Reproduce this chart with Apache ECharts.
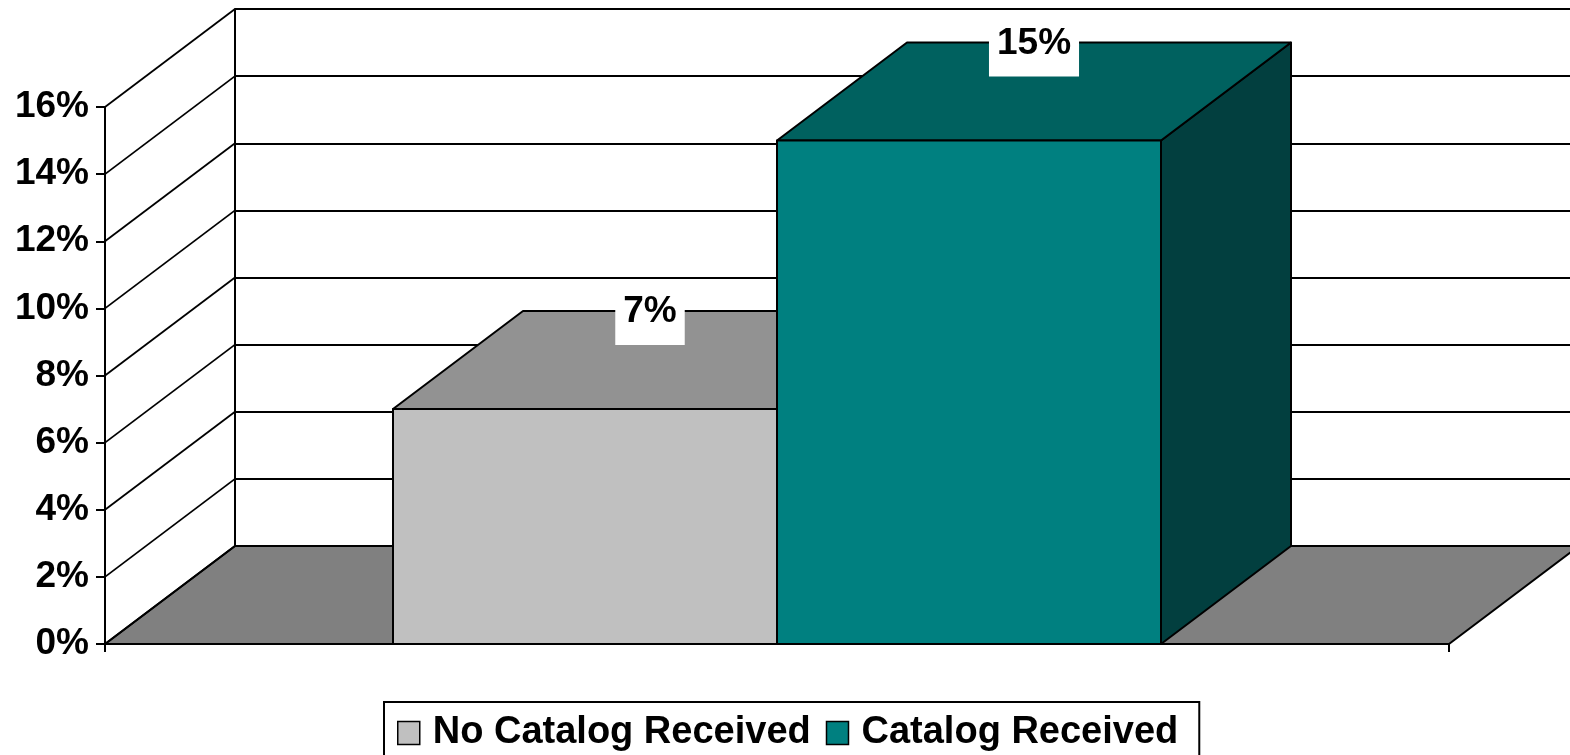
<!DOCTYPE html>
<html>
<head>
<meta charset="utf-8">
<title>Catalog Received vs No Catalog Received</title>
<script src="https://cdn.jsdelivr.net/npm/echarts@6/dist/echarts.min.js"></script>
<style>
  html, body { margin: 0; padding: 0; background: #ffffff; }
  #chart { width: 1570px; height: 755px; }
</style>
</head>
<body>
<div id="chart"></div>
<script>
// ---- data ----
const groupLabels = [''];                                   // one category, two series
const seriesNames = ['No Catalog Received', 'Catalog Received'];
const seriesValues = [7, 15];                               // percent
const tickValues = [0, 2, 4, 6, 8, 10, 12, 14, 16];         // percent

// ---- styling ----
const FONT = '"Liberation Sans", Arial, Helvetica, sans-serif';
const FRONT_COLORS = ['#C0C0C0', '#008080'];
const TOP_COLORS = ['#929292', '#00615F'];
const SIDE_COLORS = ['#6E6E6E', '#023F3F'];
const FLOOR_COLOR = '#808080';
const EDGE = '#000000';
const LINE_W = 2;         // outlines and axis lines
const GRID_W = 1.8;       // wall grid lines
const DEPTH_X = 130;      // 3D depth offset, px
const DEPTH_Y = 98;
const GAP_RATIO = 1.5;    // gap between category groups, in bar widths

const chart = echarts.init(document.getElementById('chart'), null, { renderer: 'canvas' });

// horizontal extent of one bar inside the category band
function barExtent(api, idx) {
  const band = api.size([1, 0])[0];
  const center = api.coord([0, 0])[0];
  const n = seriesValues.length;
  const w = band / (n + GAP_RATIO);
  const x0 = center - (n * w) / 2 + idx * w;
  return [x0, x0 + w];
}

function barSeries(idx) {
  return {
    name: seriesNames[idx],
    type: 'custom',
    xAxisIndex: 0,
    yAxisIndex: 0,
    itemStyle: { color: FRONT_COLORS[idx], borderColor: EDGE },
    data: [[0, seriesValues[idx]]],
    renderItem: function (params, api) {
      const [x0, x1] = barExtent(api, idx);
      const yTop = api.coord([0, api.value(1)])[1];
      const yBase = api.coord([0, 0])[1];
      const stroke = { stroke: EDGE, lineWidth: LINE_W, lineJoin: 'round' };
      return {
        type: 'group',
        children: [
          {
            type: 'polygon',
            shape: { points: [[x1, yTop], [x1 + DEPTH_X, yTop - DEPTH_Y], [x1 + DEPTH_X, yBase - DEPTH_Y], [x1, yBase]] },
            style: Object.assign({ fill: SIDE_COLORS[idx] }, stroke)
          },
          {
            type: 'polygon',
            shape: { points: [[x0, yTop], [x1, yTop], [x1 + DEPTH_X, yTop - DEPTH_Y], [x0 + DEPTH_X, yTop - DEPTH_Y]] },
            style: Object.assign({ fill: TOP_COLORS[idx] }, stroke)
          },
          {
            type: 'rect',
            shape: { x: x0, y: yTop, width: x1 - x0, height: yBase - yTop },
            style: Object.assign({ fill: FRONT_COLORS[idx] }, stroke)
          }
        ]
      };
    }
  };
}

const option = {
  animation: false,
  backgroundColor: '#ffffff',
  grid: [
    // front plane (value axis with labels)
    { left: 105, right: 121, top: 107, bottom: 111, containLabel: false },
    // back wall
    { left: 235, right: 0, top: 9, bottom: 209, containLabel: false }
  ],
  xAxis: [
    {
      gridIndex: 0,
      type: 'category',
      data: groupLabels,
      boundaryGap: true,
      axisLine: { show: true, lineStyle: { color: EDGE, width: LINE_W } },
      axisTick: { show: true, length: 8, lineStyle: { color: EDGE, width: LINE_W } },
      axisLabel: { show: false },
      splitLine: { show: false }
    },
    { gridIndex: 1, type: 'value', show: false, min: 0, max: 1 }
  ],
  yAxis: [
    {
      gridIndex: 0,
      type: 'value',
      min: 0,
      max: 16,
      interval: 2,
      axisLine: { show: true, lineStyle: { color: EDGE, width: LINE_W } },
      axisTick: { show: true, length: 9, lineStyle: { color: EDGE, width: LINE_W } },
      axisLabel: {
        formatter: '{value}%',
        margin: 16,
        color: '#000000',
        fontFamily: FONT,
        fontWeight: 'bold',
        fontSize: 37
      },
      splitLine: { show: false }
    },
    {
      gridIndex: 1,
      type: 'value',
      min: 0,
      max: 16,
      interval: 2,
      axisLine: { show: true, lineStyle: { color: EDGE, width: LINE_W } },
      axisTick: { show: false },
      axisLabel: { show: false },
      splitLine: { show: true, lineStyle: { color: EDGE, width: GRID_W } }
    }
  ],
  legend: {
    left: 384,
    top: 702,
    orient: 'horizontal',
    borderColor: EDGE,
    borderWidth: LINE_W,
    backgroundColor: '#ffffff',
    padding: [11, 21, 11, 13],
    itemWidth: 22,
    itemHeight: 23,
    itemGap: 15,
    selectedMode: false,
    textStyle: {
      color: '#000000',
      fontFamily: FONT,
      fontWeight: 'bold',
      fontSize: 38,
      lineHeight: 40,
      padding: [0, 0, 0, 8]
    },
    data: seriesNames.map((name, i) => ({
      name: name,
      icon: 'rect',
      itemStyle: { color: FRONT_COLORS[i], borderColor: EDGE, borderWidth: 1.5 }
    }))
  },
  series: [
    // floor
    {
      type: 'custom',
      xAxisIndex: 0,
      yAxisIndex: 0,
      silent: true,
      data: [[0, 0]],
      renderItem: function (params, api) {
        const band = api.size([1, 0])[0];
        const c = api.coord([0, 0]);
        const l = c[0] - band / 2;
        const r = c[0] + band / 2;
        const y = c[1];
        return {
          type: 'polygon',
          shape: { points: [[l, y], [r, y], [r + DEPTH_X, y - DEPTH_Y], [l + DEPTH_X, y - DEPTH_Y]] },
          style: { fill: FLOOR_COLOR, stroke: EDGE, lineWidth: LINE_W, lineJoin: 'round' }
        };
      }
    },
    // side wall lines running from each front tick to the back wall
    {
      type: 'custom',
      xAxisIndex: 0,
      yAxisIndex: 0,
      silent: true,
      data: tickValues.map(v => [0, v]),
      renderItem: function (params, api) {
        const band = api.size([1, 0])[0];
        const c = api.coord([0, api.value(1)]);
        const l = c[0] - band / 2;
        return {
          type: 'line',
          shape: { x1: l, y1: c[1], x2: l + DEPTH_X, y2: c[1] - DEPTH_Y },
          style: { stroke: EDGE, lineWidth: GRID_W }
        };
      }
    },
    barSeries(0),
    barSeries(1),
    // value labels above each bar
    {
      type: 'custom',
      xAxisIndex: 0,
      yAxisIndex: 0,
      silent: true,
      data: seriesValues.map((v, i) => [i, v]),
      renderItem: function (params, api) {
        const idx = api.value(0);
        const v = api.value(1);
        const [x0, x1] = barExtent(api, idx);
        const yTop = api.coord([0, v])[1];
        return {
          type: 'text',
          style: {
            text: v + '%',
            x: (x0 + x1) / 2 + DEPTH_X / 2,
            y: yTop - DEPTH_Y + 1,
            align: 'center',
            verticalAlign: 'middle',
            fill: '#000000',
            font: 'bold 37px ' + FONT,
            lineHeight: 38,
            backgroundColor: '#ffffff',
            padding: [14, 8, 14, 8]
          }
        };
      }
    }
  ]
};

chart.setOption(option);
</script>
</body>
</html>
